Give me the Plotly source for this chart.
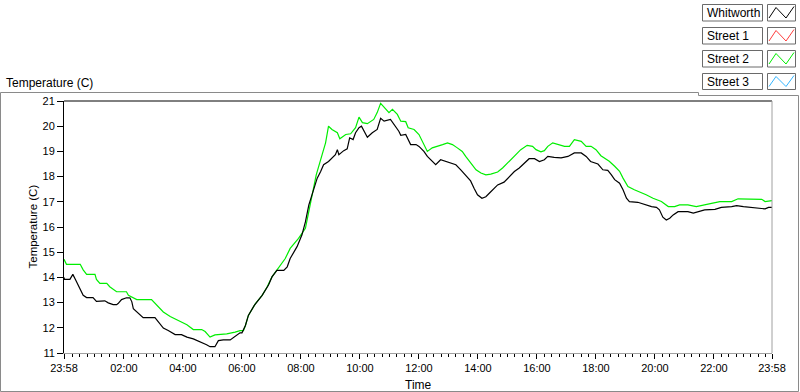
import plotly.graph_objects as go
import pandas as pd

# ---------------- data ----------------
START = pd.Timestamp("2000-01-01 23:58")

# Whitworth (black): minutes after 23:58, temperature (C)
whit_min = [0, 1, 12, 18, 24, 32, 39, 46, 59, 66, 73, 83, 90, 100, 107, 110, 117, 127, 134,
            138, 141, 151, 161, 185, 192, 202, 212, 226, 239, 250, 263, 277, 290, 297, 307,
            314, 324, 338, 348, 358, 362, 369, 375, 387, 403, 416, 423, 433, 447, 454, 460,
            474, 484, 491, 498, 505, 515, 522, 528, 538, 545, 552, 556, 559, 569, 576, 581,
            588, 593, 600, 605, 610, 617, 627, 637, 644, 651, 664, 674, 681, 685, 695, 705,
            716, 722, 732, 739, 749, 756, 766, 776, 787, 797, 807, 817, 827, 834, 841, 850,
            858, 865, 872, 882, 895, 906, 916, 926, 936, 946, 957, 967, 977, 984, 997, 1011,
            1025, 1038, 1052, 1062, 1071, 1086, 1096, 1106, 1113, 1120, 1130, 1137, 1144,
            1150, 1167, 1181, 1195, 1205, 1211, 1218, 1225, 1232, 1239, 1249, 1269, 1280,
            1290, 1303, 1324, 1337, 1358, 1368, 1382, 1398, 1415, 1426, 1433, 1440]
whit_val = [14.0, 13.92, 13.92, 14.12, 13.89, 13.56, 13.29, 13.2, 13.2, 13.05, 13.07, 13.07,
            12.99, 12.92, 12.92, 12.96, 13.12, 13.19, 13.19, 13.03, 12.76, 12.56, 12.4, 12.4,
            12.23, 11.99, 11.89, 11.73, 11.73, 11.63, 11.56, 11.45, 11.33, 11.25, 11.25, 11.49,
            11.52, 11.52, 11.65, 11.8, 11.8, 12.09, 12.49, 12.89, 13.29, 13.7, 14.02, 14.28,
            14.28, 14.42, 14.75, 15.22, 15.69, 16.2, 16.88, 17.28, 17.94, 18.2, 18.47, 18.6,
            18.74, 18.87, 19.07, 18.87, 19.03, 19.1, 19.54, 19.47, 19.74, 19.94, 20.0, 19.8,
            19.56, 19.74, 19.87, 20.31, 20.2, 20.27, 20.0, 19.8, 19.64, 19.67, 19.27, 19.27,
            19.2, 19.0, 18.8, 18.6, 18.47, 18.67, 18.6, 18.54, 18.47, 18.27, 18.07, 17.83,
            17.54, 17.28, 17.14, 17.2, 17.34, 17.47, 17.67, 17.78, 18.0, 18.2, 18.34, 18.54,
            18.71, 18.71, 18.6, 18.67, 18.8, 18.76, 18.74, 18.8, 18.94, 18.94, 18.8, 18.6,
            18.5, 18.27, 18.25, 18.08, 17.88, 17.74, 17.48, 17.14, 17.01, 16.98, 16.88, 16.81,
            16.78, 16.68, 16.39, 16.28, 16.35, 16.48, 16.61, 16.61, 16.55, 16.61, 16.68, 16.7,
            16.78, 16.81, 16.85, 16.81, 16.78, 16.72, 16.72, 16.78, 16.78]

# Street 2 (green)
st2_min = [0, 5, 33, 39, 46, 63, 66, 73, 87, 93, 107, 127, 131, 148, 178, 188, 202, 216, 229,
           250, 263, 280, 287, 297, 307, 331, 348, 358, 365, 369, 375, 389, 403, 413, 423, 436,
           450, 460, 477, 491, 498, 505, 513, 525, 532, 538, 545, 556, 561, 573, 583, 593, 600,
           607, 617, 630, 637, 644, 654, 661, 668, 678, 685, 695, 700, 712, 722, 729, 739, 749,
           760, 770, 780, 790, 800, 810, 817, 827, 838, 848, 858, 868, 882, 892, 902, 916, 929,
           942, 953, 960, 970, 977, 984, 994, 1004, 1018, 1028, 1038, 1052, 1062, 1072, 1082,
           1092, 1109, 1120, 1130, 1137, 1147, 1160, 1174, 1184, 1198, 1215, 1229, 1242, 1252,
           1269, 1286, 1300, 1317, 1334, 1358, 1371, 1392, 1419, 1426, 1440]
st2_val = [14.72, 14.52, 14.52, 14.3, 14.12, 14.12, 13.92, 13.76, 13.76, 13.63, 13.43, 13.43,
           13.29, 13.12, 13.12, 12.9, 12.63, 12.45, 12.32, 12.12, 11.93, 11.93, 11.85, 11.63,
           11.72, 11.76, 11.83, 11.89, 11.89, 12.09, 12.49, 12.95, 13.29, 13.62, 14.02, 14.35,
           14.75, 15.15, 15.55, 15.95, 16.61, 17.28, 18.07, 18.87, 19.34, 20.0, 19.87, 19.74,
           19.5, 19.67, 19.7, 19.94, 20.36, 20.14, 20.1, 20.27, 20.54, 20.91, 20.67, 20.54,
           20.67, 20.47, 20.2, 20.18, 19.94, 19.87, 19.67, 19.4, 19.0, 19.14, 19.2, 19.27,
           19.34, 19.27, 19.14, 19.0, 18.8, 18.54, 18.27, 18.14, 18.07, 18.1, 18.18, 18.34,
           18.54, 18.8, 19.07, 19.24, 19.2, 19.07, 18.98, 19.03, 19.2, 19.34, 19.27, 19.2,
           19.2, 19.47, 19.4, 19.2, 19.2, 19.07, 18.83, 18.61, 18.41, 18.21, 17.94, 17.61,
           17.48, 17.37, 17.28, 17.14, 17.01, 16.81, 16.81, 16.88, 16.88, 16.81, 16.88, 16.94,
           17.01, 17.01, 17.12, 17.1, 17.1, 17.01, 17.05]

series_names = ["Whitworth", "Street 1", "Street 2", "Street 3"]
series_colors = ["#000000", "#ff3c3c", "#00ee00", "#33b5ff"]

tick_hours = [0, 2, 4, 6, 8, 10, 12, 14, 16, 18, 20, 22]
tick_labels = ["23:58", "02:00", "04:00", "06:00", "08:00", "10:00", "12:00",
               "14:00", "16:00", "18:00", "20:00", "22:00", "23:58"]
y_ticks = [11, 12, 13, 14, 15, 16, 17, 18, 19, 20, 21]

# ---------------- figure ----------------
W, H = 800, 392
L, R, T, B = 64, 28, 101, 39
PW, PH = W - L - R, H - T - B


def px(x):
    return (x - L) / PW


def py(y):
    return (H - B - y) / PH


FONT = "Liberation Sans, Arial, sans-serif"

fig = go.Figure()
x_w = [START + pd.Timedelta(minutes=m) for m in whit_min]
x_s2 = [START + pd.Timedelta(minutes=m) for m in st2_min]

fig.add_trace(go.Scatter(x=x_s2, y=st2_val, mode="lines", name=series_names[2],
                         line=dict(color=series_colors[2], width=1.2)))
fig.add_trace(go.Scatter(x=x_w, y=whit_val, mode="lines", name=series_names[0],
                         line=dict(color=series_colors[0], width=1.2)))

end = START + pd.Timedelta(hours=24)
tickvals = [START] + [pd.Timestamp("2000-01-02") + pd.Timedelta(hours=h) for h in tick_hours[1:]] + [end]

fig.update_layout(
    width=W, height=H, margin=dict(l=L, r=R, t=T, b=B),
    paper_bgcolor="white", plot_bgcolor="white", showlegend=False,
    font=dict(family=FONT, size=11, color="#000000"),
    xaxis=dict(type="date", range=[START, end], tickmode="array", tickvals=tickvals,
               ticktext=tick_labels, ticks="outside", ticklen=5, tickcolor="#000000",
               showline=True, linecolor="#a0a0a0", linewidth=1, showgrid=False,
               zeroline=False, tickfont=dict(size=11, family=FONT),
               minor=dict(ticks="outside", ticklen=3, tickcolor="#000000",
                          dtick=15 * 60 * 1000, tick0="2000-01-02 00:00", showgrid=False)),
    yaxis=dict(range=[11, 21], tickmode="array", tickvals=y_ticks, ticks="outside",
               ticklen=6, tickcolor="#000000", showline=True, linecolor="#000000",
               linewidth=1, showgrid=False, zeroline=False, tickfont=dict(size=11, family=FONT)),
)

shapes = []
# plot area top (black) and right (grey) borders
shapes.append(dict(type="line", xref="paper", yref="paper", x0=0, x1=1, y0=1, y1=1,
                   line=dict(color="#000000", width=1)))
shapes.append(dict(type="line", xref="paper", yref="paper", x0=1, x1=1, y0=0, y1=1,
                   line=dict(color="#a0a0a0", width=1)))
# outer panel frame
path = (f"M {px(0.5)},{py(92.5)} L {px(698.5)},{py(92.5)} L {px(698.5)},{py(95.5)} "
        f"L {px(798.5)},{py(95.5)} L {px(798.5)},{py(391.5)} L {px(0.5)},{py(391.5)} Z")
shapes.append(dict(type="path", xref="paper", yref="paper", path=path,
                   line=dict(color="#8a8a8a", width=1), layer="below"))

annotations = [
    dict(text="Temperature (C)", xref="paper", yref="paper", x=px(4), y=py(82.5),
         xanchor="left", yanchor="middle", showarrow=False, font=dict(size=12, family=FONT)),
    dict(text="Temperature (C)", xref="paper", yref="paper", x=px(32.5), y=py(227),
         xanchor="center", yanchor="middle", textangle=-90, showarrow=False,
         font=dict(size=11.5, family=FONT)),
    dict(text="Time", xref="paper", yref="paper", x=0.5, y=py(385),
         xanchor="center", yanchor="middle", showarrow=False, font=dict(size=12, family=FONT)),
]

# custom legend
rows = [(4.5, 21), (27.5, 44), (50.5, 67), (73.5, 89.5)]
for name, color, (top, bot) in zip(series_names, series_colors, rows):
    shapes.append(dict(type="rect", xref="paper", yref="paper", x0=px(702.5), x1=px(762.5),
                       y0=py(bot), y1=py(top), line=dict(color="#6a6a6a", width=1),
                       fillcolor="white"))
    shapes.append(dict(type="rect", xref="paper", yref="paper", x0=px(767.5), x1=px(795.5),
                       y0=py(bot), y1=py(top), line=dict(color="#6a6a6a", width=1),
                       fillcolor="white"))
    zz = (f"M {px(769)},{py(bot - 3)} L {px(776)},{py(top + 3)} L {px(786)},{py(bot - 3)} "
          f"L {px(794)},{py(top + 2)}")
    shapes.append(dict(type="path", xref="paper", yref="paper", path=zz,
                       line=dict(color=color, width=1)))
    annotations.append(dict(text=name, xref="paper", yref="paper", x=px(704.5),
                            y=py((top + bot) / 2), xanchor="left", yanchor="middle",
                            showarrow=False, font=dict(size=12, family=FONT)))

fig.update_layout(shapes=shapes, annotations=annotations)
fig.write_html("out.html", config={"displayModeBar": False},
               post_script="document.body.style.margin='0';document.body.style.overflow='hidden';")
